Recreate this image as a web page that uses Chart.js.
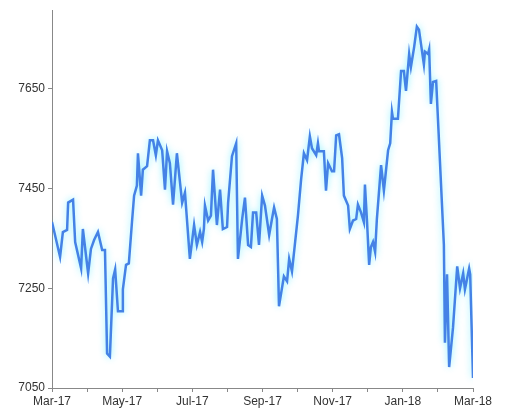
<!DOCTYPE html>
<html>
<head>
<script src="https://cdn.jsdelivr.net/npm/chart.js@4"></script>
<style>
  body { margin: 0; background: #fff; }
  #wrap { width: 512px; height: 412px; }
</style>
</head>
<body>
<div id="wrap"><canvas id="lineChart"></canvas></div>
<script>
// x in months since Mar-17
const months = [0,.23,.31,.43,.46,.6,.66,.83,.88,1.03,1.11,1.2,1.31,1.43,1.51,1.57,1.65,1.74,1.8,1.88,2.0,2.02,2.11,2.19,2.28,2.34,2.42,2.45,2.54,2.59,2.71,2.79,2.88,2.96,3.02,3.14,3.22,3.28,3.36,3.45,3.56,3.71,3.79,3.93,4.05,4.13,4.22,4.28,4.33,4.36,4.45,4.53,4.59,4.7,4.79,4.87,4.99,5.02,5.13,5.25,5.3,5.42,5.5,5.59,5.67,5.73,5.82,5.9,5.99,6.07,6.19,6.27,6.33,6.41,6.47,6.61,6.7,6.76,6.84,6.9,7.01,7.1,7.18,7.27,7.35,7.41,7.53,7.58,7.61,7.75,7.81,7.87,7.98,8.04,8.1,8.18,8.27,8.32,8.44,8.49,8.58,8.67,8.72,8.81,8.89,8.92,8.98,9.04,9.09,9.15,9.21,9.26,9.38,9.46,9.58,9.64,9.69,9.72,9.86,9.95,10.03,10.09,10.18,10.23,10.32,10.4,10.46,10.6,10.63,10.72,10.75,10.8,10.86,10.95,11.17,11.2,11.26,11.32,11.43,11.55,11.63,11.72,11.77,11.89,11.92,12.0];
const prices = [7383,7313,7363,7367,7422,7428,7343,7290,7369,7280,7329,7347,7363,7327,7327,7119,7113,7270,7288,7204,7204,7248,7297,7300,7383,7436,7456,7521,7436,7488,7495,7547,7547,7517,7547,7527,7448,7525,7501,7418,7521,7422,7442,7309,7377,7337,7363,7343,7369,7416,7386,7396,7488,7377,7448,7369,7373,7422,7515,7541,7309,7389,7432,7337,7333,7402,7402,7337,7436,7416,7357,7389,7412,7389,7214,7274,7264,7309,7284,7323,7396,7468,7521,7507,7555,7531,7517,7541,7525,7525,7446,7501,7485,7485,7557,7559,7511,7436,7416,7369,7386,7389,7418,7402,7383,7458,7383,7297,7333,7343,7323,7389,7497,7446,7527,7541,7604,7590,7590,7686,7686,7646,7720,7694,7733,7775,7769,7699,7725,7720,7729,7620,7664,7666,7337,7141,7278,7092,7171,7294,7250,7280,7248,7290,7278,7070];
const tickLabels = ['Mar-17','','May-17','','Jul-17','','Sep-17','','Nov-17','','Jan-18','','Mar-18'];
const yTicks = [7050, 7250, 7450, 7650];

const glow = {
  id: 'glow',
  beforeDatasetDraw(chart) {
    const ctx = chart.ctx;
    ctx.save();
    ctx.shadowColor = 'rgba(0,225,255,0.45)';
    ctx.shadowBlur = 7;
  },
  afterDatasetDraw(chart) { chart.ctx.restore(); }
};

const ctx = document.getElementById('lineChart').getContext('2d');
new Chart(ctx, {
  type: 'line',
  data: {
    datasets: [{
      data: months.map((m, i) => ({ x: m, y: prices[i] })),
      borderColor: '#4582e6',
      borderWidth: 2.5,
      pointRadius: 0,
      tension: 0,
      fill: false
    }]
  },
  options: {
    responsive: true,
    maintainAspectRatio: false,
    animation: false,
    layout: { padding: { top: 0, right: 39 } },
    plugins: { legend: { display: false }, tooltip: { enabled: false } },
    scales: {
      x: {
        type: 'linear', min: 0, max: 12,
        afterFit: s => { s.height = 24; },
        grid: { drawOnChartArea: false, tickLength: 4, color: '#888' },
        border: { color: '#888' },
        ticks: {
          stepSize: 1, autoSkip: false, maxRotation: 0, padding: 2,
          color: '#333', font: { family: 'Liberation Sans', size: 12 },
          callback: v => tickLabels[v]
        }
      },
      y: {
        min: 7050, max: 7808,
        afterFit: s => { s.width = 52; },
        afterBuildTicks: s => { s.ticks = yTicks.map(v => ({ value: v })); },
        grid: { drawOnChartArea: false, tickLength: 4, color: '#888' },
        border: { color: '#888' },
        ticks: {
          color: '#333', font: { family: 'Liberation Sans', size: 12 },
          callback: v => v
        }
      }
    }
  },
  plugins: [glow]
});
</script>
</body>
</html>
